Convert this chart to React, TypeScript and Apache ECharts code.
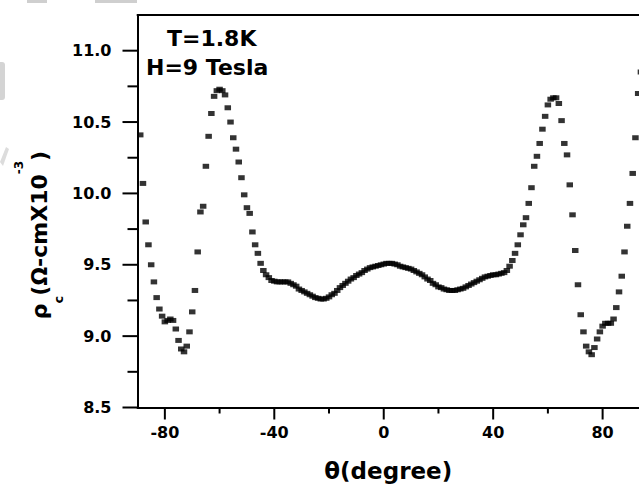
import React, { useEffect, useRef } from "react";
import * as echarts from "echarts";

// Measurement angle (degrees)
const thetaDeg = [
  -89, -88, -87, -86, -85, -84, -83, -82, -81, -80,
  -79, -78, -77, -76, -75, -74, -73, -72, -71, -70,
  -69, -68, -67, -66, -65, -64, -63, -62, -61, -60,
  -59, -58, -57, -56, -55, -54, -53, -52, -51, -50,
  -49, -48, -47, -46, -45, -44, -43, -42, -41, -40,
  -39, -38, -37, -36, -35, -34, -33, -32, -31, -30,
  -29, -28, -27, -26, -25, -24, -23, -22, -21, -20,
  -19, -18, -17, -16, -15, -14, -13, -12, -11, -10,
  -9, -8, -7, -6, -5, -4, -3, -2, -1, 0,
  1, 2, 3, 4, 5, 6, 7, 8, 9, 10,
  11, 12, 13, 14, 15, 16, 17, 18, 19, 20,
  21, 22, 23, 24, 25, 26, 27, 28, 29, 30,
  31, 32, 33, 34, 35, 36, 37, 38, 39, 40,
  41, 42, 43, 44, 45, 46, 47, 48, 49, 50,
  51, 52, 53, 54, 55, 56, 57, 58, 59, 60,
  61, 62, 63, 64, 65, 66, 67, 68, 69, 70,
  71, 72, 73, 74, 75, 76, 77, 78, 79, 80,
  81, 82, 83, 84, 85, 86, 87, 88, 89, 90,
  91, 92, 93, 94,
];

// rho_c (Ohm-cm x 10^-3)
const rhoValues = [
  10.41, 10.07, 9.80, 9.64, 9.50, 9.38, 9.27, 9.19, 9.14, 9.10,
  9.11, 9.12, 9.11, 9.05, 8.97, 8.91, 8.89, 8.93, 9.03, 9.17,
  9.32, 9.59, 9.87, 9.91, 10.19, 10.40, 10.56, 10.68, 10.72, 10.73,
  10.72, 10.69, 10.60, 10.50, 10.39, 10.31, 10.22, 10.11, 9.99, 9.90,
  9.86, 9.73, 9.64, 9.58, 9.51, 9.46, 9.43, 9.41, 9.39, 9.385,
  9.38, 9.38, 9.38, 9.38, 9.38, 9.37, 9.36, 9.35, 9.33, 9.32,
  9.31, 9.30, 9.29, 9.28, 9.27, 9.265, 9.26, 9.26, 9.265, 9.275,
  9.29, 9.30, 9.32, 9.34, 9.355, 9.37, 9.385, 9.40, 9.41, 9.425,
  9.435, 9.445, 9.46, 9.47, 9.48, 9.485, 9.49, 9.495, 9.50, 9.505,
  9.51, 9.51, 9.51, 9.505, 9.50, 9.49, 9.485, 9.48, 9.475, 9.47,
  9.46, 9.45, 9.44, 9.43, 9.415, 9.40, 9.39, 9.37, 9.36, 9.345,
  9.34, 9.33, 9.325, 9.32, 9.32, 9.32, 9.325, 9.33, 9.335, 9.345,
  9.355, 9.365, 9.375, 9.385, 9.395, 9.405, 9.415, 9.42, 9.425, 9.43,
  9.43, 9.435, 9.44, 9.445, 9.46, 9.49, 9.53, 9.58, 9.64, 9.71,
  9.78, 9.83, 9.93, 10.04, 10.19, 10.26, 10.35, 10.45, 10.54, 10.62,
  10.66, 10.67, 10.67, 10.63, 10.51, 10.35, 10.27, 10.06, 9.85, 9.60,
  9.36, 9.15, 9.03, 8.93, 8.89, 8.87, 8.92, 8.98, 9.03, 9.07,
  9.09, 9.09, 9.09, 9.12, 9.20, 9.31, 9.42, 9.59, 9.77, 9.93,
  10.14, 10.39, 10.70, 10.85,
];

const xMajorTicks = [-80, -40, 0, 40, 80];
const xMinorTicks = [-60, -20, 20, 60];
const yMajorTicks = [8.5, 9.0, 9.5, 10.0, 10.5, 11.0];
const yMinorTicks = [8.75, 9.25, 9.75, 10.25, 10.75];
const annotationLines = ["T=1.8K", "H=9 Tesla"];
const xTitle = "θ(degree)";

export default function App() {
  const ref = useRef<HTMLDivElement>(null);

  useEffect(() => {
    if (!ref.current) return;
    const chart = echarts.init(ref.current, null, { renderer: "svg" });
    const FONT = "DejaVu Sans";
    const X_MIN = -90;
    const X_MAX = 93.3;
    const Y_MIN = 8.5;
    const Y_MAX = 11.25;
    const hidden = { show: false };

    const points = thetaDeg.map((t, i) => [t, rhoValues[i]]);

    // tick marks: [x value, y value, pixel dx, pixel dy], anchored through the axes' scales
    const tickData = [
      ...xMajorTicks.map((v) => [v, Y_MIN, 0, 12]),
      ...xMinorTicks.map((v) => [v, Y_MIN, 0, 6]),
      ...yMajorTicks.map((v) => [X_MIN, v, -15, 0]),
      ...yMinorTicks.map((v) => [X_MIN, v, -10, 0]),
    ];

    chart.setOption({
      animation: false,
      backgroundColor: "#fff",
      grid: {
        left: 137.5,
        right: 0,
        top: 15,
        bottom: 77.5,
        containLabel: false,
        outerBoundsMode: "none",
      },
      xAxis: [
        {
          type: "value",
          position: "bottom",
          min: X_MIN,
          max: X_MAX,
          splitLine: hidden,
          axisLine: { show: true, onZero: false, lineStyle: { color: "#000", width: 2 } },
          axisTick: hidden,
          axisLabel: {
            show: true,
            customValues: xMajorTicks,
            margin: 17,
            color: "#000",
            fontFamily: FONT,
            fontWeight: "bold",
            fontSize: 16,
          },
          name: xTitle,
          nameLocation: "middle",
          nameGap: 52,
          nameTextStyle: { color: "#000", fontFamily: FONT, fontWeight: "bold", fontSize: 23 },
        },
        {
          type: "value",
          position: "top",
          min: X_MIN,
          max: X_MAX,
          splitLine: hidden,
          axisLine: { show: true, onZero: false, lineStyle: { color: "#000", width: 2 } },
          axisTick: hidden,
          axisLabel: hidden,
        },
      ],
      yAxis: [
        {
          type: "value",
          position: "left",
          min: Y_MIN,
          max: Y_MAX,
          splitLine: hidden,
          axisLine: { show: true, onZero: false, lineStyle: { color: "#000", width: 2 } },
          axisTick: hidden,
          axisLabel: {
            show: true,
            customValues: yMajorTicks,
            margin: 26,
            color: "#000",
            fontFamily: FONT,
            fontWeight: "bold",
            fontSize: 16,
            formatter: (v: number) => v.toFixed(1),
          },
        },
      ],
      series: [
        {
          type: "scatter",
          data: points,
          symbol: "rect",
          symbolSize: [6.5, 5],
          clip: false,
          itemStyle: { color: "#000" },
        },
        {
          type: "custom",
          data: tickData,
          clip: false,
          silent: true,
          encode: { x: 0, y: 1 },
          renderItem: (_params: any, api: any) => {
            const p = api.coord([api.value(0), api.value(1)]);
            const dx = api.value(2);
            const dy = api.value(3);
            return {
              type: "line",
              shape: { x1: p[0], y1: p[1], x2: p[0] + dx, y2: p[1] + dy },
              style: { stroke: "#000", lineWidth: 2 },
            };
          },
        },
      ],
      graphic: [
        {
          type: "text",
          x: 167,
          y: 38,
          style: {
            text: annotationLines[0],
            fill: "#000",
            fontFamily: FONT,
            fontWeight: "bold",
            fontSize: 22,
            align: "left",
            verticalAlign: "middle",
          },
        },
        {
          type: "text",
          x: 146,
          y: 67,
          style: {
            text: annotationLines[1],
            fill: "#000",
            fontFamily: FONT,
            fontWeight: "bold",
            fontSize: 22,
            align: "left",
            verticalAlign: "middle",
          },
        },
        {
          type: "text",
          x: 39,
          y: 235,
          rotation: Math.PI / 2,
          style: {
            text: "{n|ρ}{sub|c}{n|(Ω-cmX10}{sup|-3}{n|)}",
            fill: "#000",
            align: "center",
            verticalAlign: "middle",
            rich: {
              n: { fontFamily: FONT, fontWeight: "bold", fontSize: 22, lineHeight: 52, fill: "#000" },
              sub: {
                fontFamily: FONT,
                fontWeight: "bold",
                fontSize: 13,
                lineHeight: 23,
                verticalAlign: "bottom",
                fill: "#000",
              },
              sup: {
                fontFamily: FONT,
                fontWeight: "bold",
                fontSize: 12,
                lineHeight: 12,
                verticalAlign: "top",
                fill: "#000",
              },
            },
          },
        },
        { type: "rect", shape: { x: 27, y: 0, width: 20, height: 3 }, style: { fill: "#cfcfcf" }, silent: true },
        { type: "rect", shape: { x: 95, y: 0, width: 42, height: 3 }, style: { fill: "#cfcfcf" }, silent: true },
        { type: "rect", shape: { x: 0, y: 62, width: 5, height: 38, r: [0, 3, 3, 0] }, style: { fill: "#d4d4d4" }, silent: true },
        { type: "polygon", shape: { points: [[0, 162], [6, 147], [9, 149], [3, 166]] }, style: { fill: "#dcdcdc" }, silent: true },
      ],
    });

    return () => chart.dispose();
  }, []);

  return (
    <div
      ref={ref}
      style={{ position: "fixed", left: 0, top: 0, width: 639, height: 485, background: "#fff" }}
    />
  );
}
